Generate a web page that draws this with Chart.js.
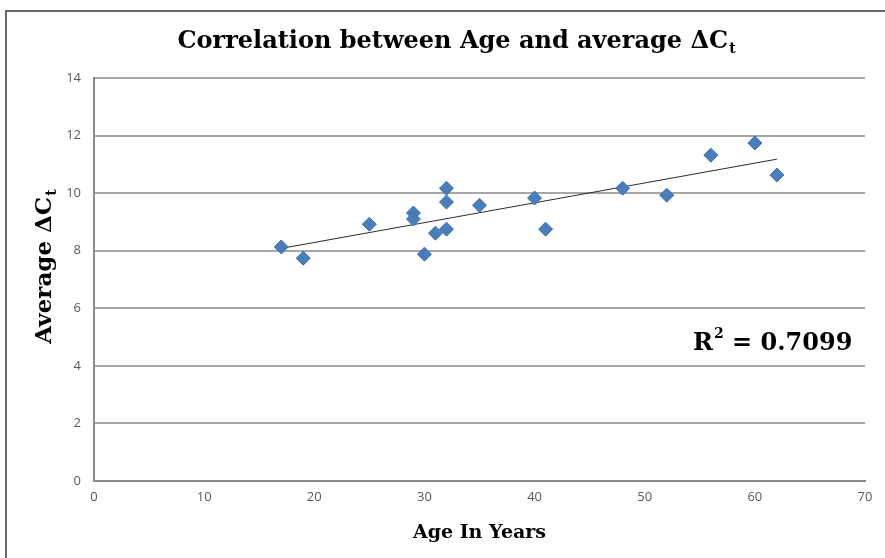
<!DOCTYPE html>
<html lang="en">
<head>
    <meta charset="UTF-8">
    <title>Correlation between Age and average ΔCt</title>
    <script src="https://cdn.jsdelivr.net/npm/chart.js"></script>
</head>
<style>
    html, body{
        margin: 0;
        padding: 0;
        background: #ffffff;
    }
    #frame{
        position: absolute;
        left: 5px;
        top: 10px;
        width: 885px;
        height: 560px;
        border-top: 2px solid #666666;
        border-left: 2px solid #666666;
    }
    #chartBox{
        position: absolute;
        left: 0;
        top: 0;
        width: 885px;
        height: 558px;
    }
</style>
<body>
    <div id="frame"></div>
    <div id="chartBox">
        <canvas id="ScatterCanvas" width="885" height="558"></canvas>
    </div>

    <script>
        // values
        var ages = [17, 19, 25, 29, 29, 30, 31, 32, 32, 32, 35, 40, 41, 48, 52, 56, 60, 62];
        var avgDeltaCt = [8.13, 7.74, 8.92, 9.31, 9.10, 7.88, 8.61, 8.75, 9.69, 10.17, 9.58, 9.83, 8.75, 10.17, 9.93, 11.32, 11.74, 10.63];
        var trendX = [17, 62];
        var trendY = [8.08, 11.18];
        var xTicks = [0, 10, 20, 30, 40, 50, 60, 70];
        var yTicks = [0, 2, 4, 6, 8, 10, 12, 14];

        var titleText = 'Correlation between Age and average ΔC';
        var yTitleText = 'Average ΔC';
        var subText = 't';
        var xTitleText = 'Age In Years';
        var r2Text = '0.7099';

        var serif = "'DejaVu Serif', 'Liberation Serif', serif";
        var sans = "'Open Sans', 'Liberation Sans', sans-serif";

        function drawWithSub(ctx, main, sub, size, cx, cy) {
            ctx.font = 'bold ' + size + 'px ' + serif;
            var w1 = ctx.measureText(main).width;
            ctx.font = 'bold ' + Math.round(size * 0.6) + 'px ' + serif;
            var w2 = ctx.measureText(sub).width;
            var x0 = cx - (w1 + w2) / 2;
            ctx.textBaseline = 'middle';
            ctx.textAlign = 'left';
            ctx.font = 'bold ' + size + 'px ' + serif;
            ctx.fillText(main, x0, cy);
            ctx.font = 'bold ' + Math.round(size * 0.6) + 'px ' + serif;
            ctx.fillText(sub, x0 + w1 + 1, cy + size * 0.32);
        }

        var textPlugin = {
            id: 'textPlugin',
            afterDraw: function(chart) {
                var ctx = chart.ctx;
                ctx.save();
                ctx.fillStyle = '#000000';
                drawWithSub(ctx, titleText, subText, 24, 456, 42);

                ctx.save();
                ctx.translate(45, 267);
                ctx.rotate(-Math.PI / 2);
                drawWithSub(ctx, yTitleText, subText, 23, 0, 0);
                ctx.restore();

                // R squared label
                ctx.textBaseline = 'alphabetic';
                ctx.textAlign = 'left';
                ctx.font = 'bold 24px ' + serif;
                var rw = ctx.measureText('R').width;
                ctx.fillText('R', 693, 350);
                ctx.font = 'bold 14px ' + serif;
                var sw = ctx.measureText('2').width;
                ctx.fillText('2', 693 + rw + 1, 338);
                ctx.font = 'bold 24px ' + serif;
                ctx.fillText(' = ' + r2Text, 693 + rw + sw + 1, 350);
                ctx.restore();
            }
        };

        var scatterData = ages.map(function(a, i) {
            return { x: a, y: avgDeltaCt[i] };
        });
        var trendData = trendX.map(function(a, i) {
            return { x: a, y: trendY[i] };
        });

        var ctx = document.getElementById('ScatterCanvas').getContext('2d');
        window.myChart = new Chart(ctx, {
            type: 'scatter',
            data: {
                datasets: [{
                    label: 'Average ΔCt',
                    data: scatterData,
                    pointStyle: 'rectRot',
                    pointRadius: 7,
                    pointHoverRadius: 7,
                    backgroundColor: '#4a7ebb',
                    borderColor: '#3d6ea8',
                    borderWidth: 1,
                    order: 1
                }, {
                    label: 'Linear trend',
                    type: 'line',
                    data: trendData,
                    showLine: true,
                    borderColor: '#2b2b2b',
                    borderWidth: 1,
                    pointRadius: 0,
                    fill: false,
                    order: 2
                }]
            },
            options: {
                responsive: false,
                animation: false,
                layout: {
                    padding: { top: 78, right: 20, left: 0, bottom: 0 }
                },
                plugins: {
                    legend: { display: false },
                    title: { display: false },
                    tooltip: { enabled: false }
                },
                scales: {
                    x: {
                        type: 'linear',
                        min: 0,
                        max: 70,
                        afterBuildTicks: function(scale) {
                            scale.ticks = xTicks.map(function(v) { return { value: v }; });
                        },
                        afterFit: function(scale) {
                            scale.height = 77;
                        },
                        grid: {
                            display: false,
                            drawTicks: false
                        },
                        border: {
                            display: true,
                            color: '#8c8c8c',
                            width: 2
                        },
                        ticks: {
                            padding: 8,
                            color: '#595959',
                            font: { family: sans, size: 13 }
                        },
                        title: {
                            display: true,
                            text: xTitleText,
                            color: '#000000',
                            padding: { top: 10, bottom: 14 },
                            font: { family: serif, size: 19, weight: 'bold' }
                        }
                    },
                    y: {
                        type: 'linear',
                        min: 0,
                        max: 14,
                        afterBuildTicks: function(scale) {
                            scale.ticks = yTicks.map(function(v) { return { value: v }; });
                        },
                        afterFit: function(scale) {
                            scale.width = 94;
                        },
                        grid: {
                            color: '#a6a6a6',
                            lineWidth: 2,
                            drawTicks: false
                        },
                        border: {
                            display: true,
                            color: '#8c8c8c',
                            width: 2
                        },
                        ticks: {
                            padding: 13,
                            color: '#595959',
                            font: { family: sans, size: 13 }
                        }
                    }
                }
            },
            plugins: [textPlugin]
        });
    </script>
</body>
</html>
